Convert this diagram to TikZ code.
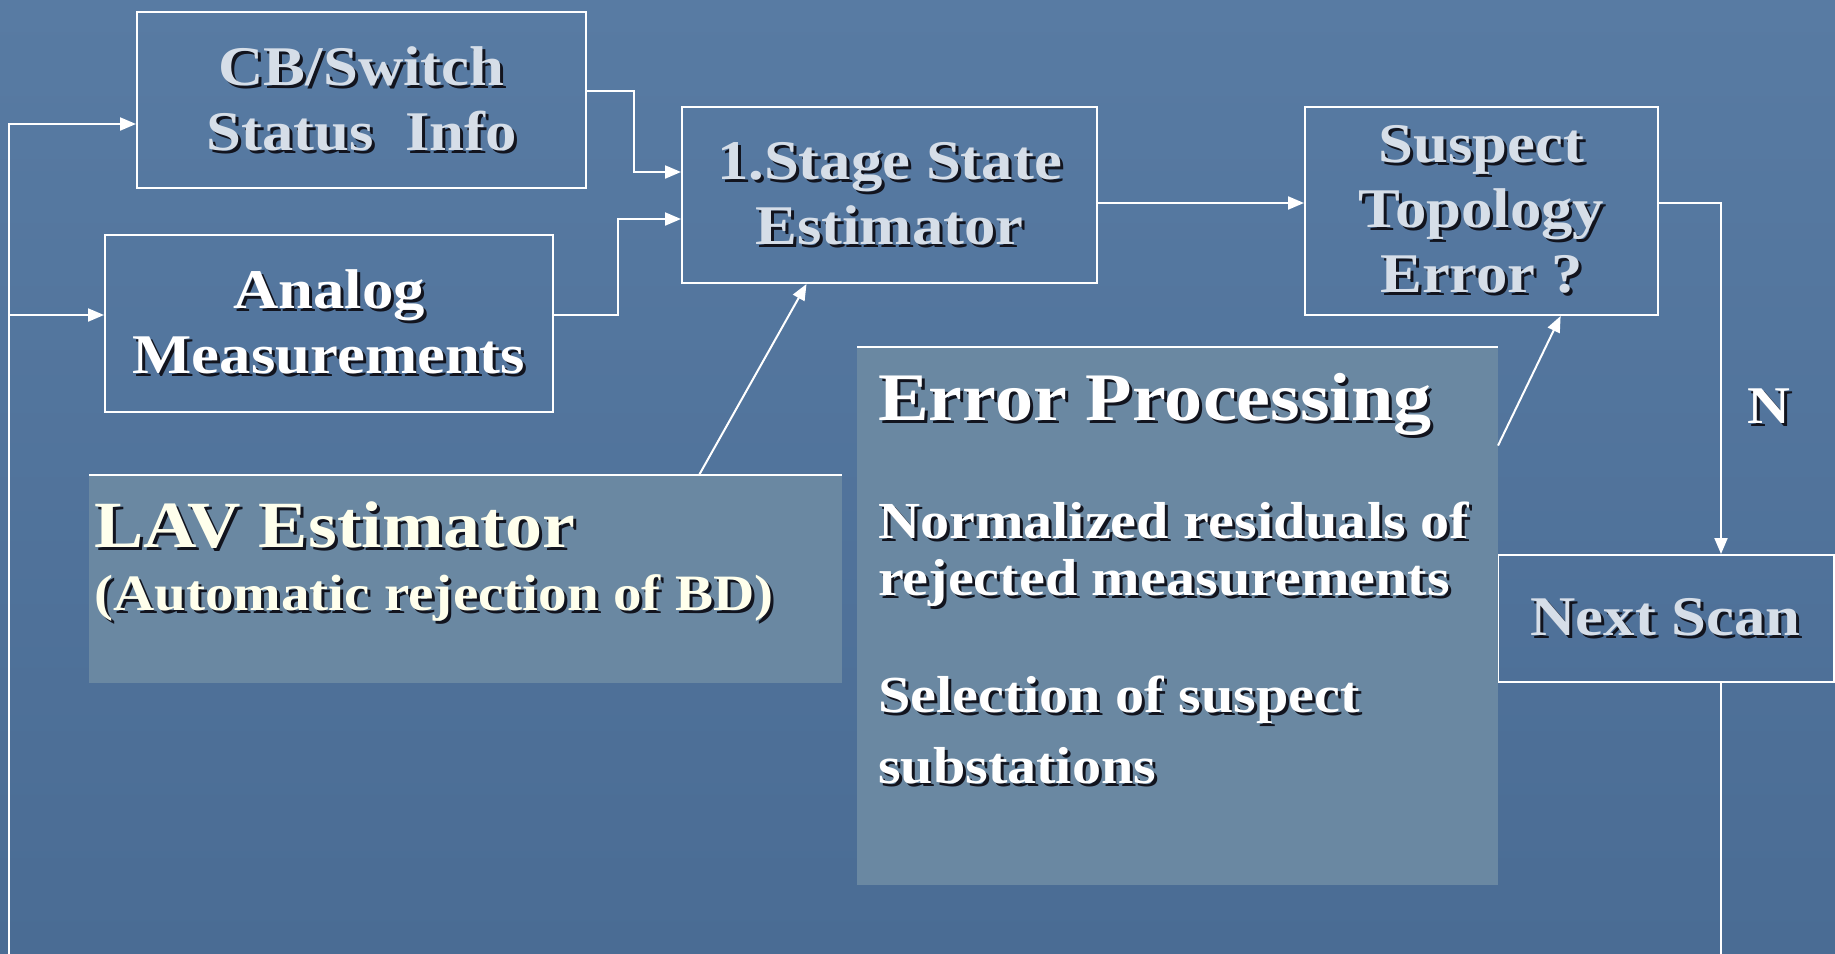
\documentclass[tikz,border=0pt]{standalone}
\usepackage{fontspec}
\newfontfamily\slidefont{Liberation Serif}[FakeStretch=1.12]
\usetikzlibrary{arrows.meta}
\definecolor{bgtop}{RGB}{88,123,163}
\definecolor{bgbot}{RGB}{74,108,148}
\definecolor{panelfill}{RGB}{106,136,162}
\definecolor{boxtext}{RGB}{214,222,232}
\definecolor{cream}{RGB}{255,255,236}
\definecolor{dropcol}{RGB}{18,20,30}
\newcommand\dropsh[1]{\leavevmode\rlap{\kern3pt\raisebox{-3pt}{\color{dropcol}#1}}\mbox{#1}}
\begin{document}
\begin{tikzpicture}[x=1pt,y=-1pt,
    box/.style={draw=white, line width=2pt, inner sep=0pt, align=center, text=boxtext,
      font=\slidefont\bfseries\fontsize{56}{65}\selectfont},
    panel/.style={fill=panelfill, inner sep=0pt, outer sep=0pt},
    wire/.style={draw=white, line width=2pt},
    arr/.style={wire, -{Triangle[length=16pt,width=13pt]}}]
        \useasboundingbox (0,0) rectangle (1835,953);
        \shade[top color=bgtop, bottom color=bgbot] (0,0) rectangle (1835,953);
        \node[box, minimum width=449pt, minimum height=176pt] (cb) at (361.5,100) {\dropsh{CB/Switch}\\\dropsh{Status~~Info}};
        \node[box, text=white, minimum width=448pt, minimum height=177pt] (analog) at (329,323.5) {\dropsh{Analog}\\\dropsh{Measurements}};
        \node[box, minimum width=415pt, minimum height=176pt] (stage) at (889.5,195) {\dropsh{1.Stage State}\\\dropsh{Estimator}};
        \node[box, minimum width=353pt, minimum height=208pt] (suspect) at (1481.5,211) {\dropsh{Suspect}\\\dropsh{Topology}\\\dropsh{Error ?}};
        \node[box, minimum width=336pt, minimum height=127pt] (next) at (1665.5,618.5) {\dropsh{Next Scan}};
        \node[panel] (lav) at (465.5,579) {\parbox[c][208pt][t]{753pt}{\parskip=0pt\leftskip=5pt
            \slidefont\bfseries\color{cream}
            {\fontsize{66}{70}\selectfont\rule{0pt}{72pt}\dropsh{LAV Estimator}\par}
            {\fontsize{51}{63}\selectfont\dropsh{(Automatic rejection of BD)}\par}}};
        \node[panel] (err) at (1177.5,616) {\parbox[c][538pt][t]{641pt}{\parskip=0pt\leftskip=21pt
            \slidefont\bfseries\color{white}
            {\fontsize{68}{70}\selectfont\rule{0pt}{73pt}\dropsh{Error Processing}\par}
            \vspace{61pt}
            {\fontsize{52}{57}\selectfont\dropsh{Normalized residuals of}\\\dropsh{rejected measurements}\par}
            \vspace{60pt}
            {\fontsize{52}{57}\selectfont\dropsh{Selection of suspect}\\[14pt]\dropsh{substations}\par}}};
        \node[text=white, font=\slidefont\bfseries\fontsize{53}{60}\selectfont] (n) at (1769,408) {\dropsh{N}};
        \draw[wire] (lav.north west) -- (lav.north east);
        \draw[wire] (err.north west) -- (err.north east);
        % feedback loop, joins below the visible edge
        \coordinate (botr) at (1721,956);
        \coordinate (botl) at (9,956);
        \coordinate (ain) at ([yshift=8.5pt]analog.west);
        \draw[arr] ([xshift=55.5pt]next.south) -- (botr) -- (botl) |- ([yshift=-24pt]cb.west);
        \draw[arr] (botl |- ain) -- (ain);
        \draw[arr] ([yshift=9pt]cb.east) -- ++(47,0) |- ([yshift=23pt]stage.west);
        \draw[arr] ([yshift=8.5pt]analog.east) -- ++(64,0) |- ([yshift=-24pt]stage.west);
        \draw[arr] ([yshift=-8pt]stage.east) -- ([yshift=-8pt]stage.east -| suspect.west);
        \draw[arr] ([yshift=8pt]suspect.east) -| ([xshift=55.5pt]next.north);
        \draw[arr] (lav.24) -- (stage.227.5);
        \draw[arr] (err.28.4) -- (suspect.307.4);
\end{tikzpicture}
\end{document}
